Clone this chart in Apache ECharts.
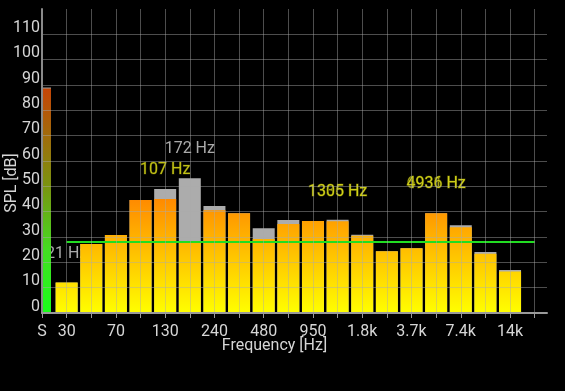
<!DOCTYPE html>
<html><head><meta charset="utf-8">
<script src="https://cdn.jsdelivr.net/npm/echarts@6/dist/echarts.min.js"></script>
<style>html,body{margin:0;padding:0;background:#000;}#main{width:565px;height:391px;}</style>
</head><body><div id="main"></div>
<script>
// ---- data ----
const tickLabels = ['S','30','','70','','130','','240','','480','','950','','1.8k','','3.7k','','7.4k','','14k',''];
const bandIndex = [1,2,3,4,5,6,7,8,9,10,11,12,13,14,15,16,17,18,19];
const currentSPL = [12, 27.2, 30.8, 44.6, 45.0, 28.4, 40.6, 39.4, 29.2, 35.1, 36.3, 36.2, 30.5, 24.4, 25.6, 39.4, 33.8, 23.4, 16.4];
const peakSPL    = [12, 27.2, 30.8, 44.6, 48.9, 53.2, 42.2, 39.4, 33.5, 36.7, 36.3, 36.8, 30.9, 24.4, 25.6, 39.4, 34.6, 24.1, 17.0];
const sumSPL = 88.6;
const sumPeak = 89.0;
const thresholdSPL = 28.0;
const thresholdRange = [1, 20];
const annotX    = [1, 6, 5, 12, 12, 16, 16];
const annotY    = [12, 53.2, 45.0, 36.3, 36.3, 39.4, 39.4];
const annotText = ['21 Hz', '172 Hz', '107 Hz', '1336 Hz', '1305 Hz', '6931 Hz', '4936 Hz'];
const annotKind = ['peak', 'peak', 'cur', 'ghost', 'cur', 'ghost', 'cur'];

const FONT = 'Roboto';
const chart = echarts.init(document.getElementById('main'));

const kindStyle = {
  peak:  {color:'#d4d4d4', textBorderWidth:0},
  cur:   {color:'#e8e81c', textBorderColor:'#3c3c00', textBorderWidth:1},
  ghost: {color:'#c4c420', textBorderColor:'#303000', textBorderWidth:1}
};

// bar centred on the "S" position, clipped to the plot area (left half hidden)
function sumBar(color){
  return function(params, api){
    const base = api.coord([api.value(0), 0]);
    const top = api.coord([api.value(0), api.value(1)]);
    const w = api.size([1, 0])[0] * 0.73;
    const rect = echarts.graphic.clipRectByRect(
      {x: base[0] - w / 2, y: top[1], width: w, height: base[1] - top[1]},
      {x: params.coordSys.x, y: params.coordSys.y, width: params.coordSys.width, height: params.coordSys.height});
    return rect && {type:'rect', shape:rect, style:{fill:color}};
  };
}

function build(barColor, sColor){
  return {
    backgroundColor:'#000',
    animation:false,
    grid:{left:42, right:18, top:9, bottom:78, containLabel:false, outerBoundsMode:'none'},
    xAxis:{
      type:'value', min:0, max:20.5, interval:1, zlevel:1, z:5,
      axisLine:{show:true, lineStyle:{color:'#9a9a9a', width:2}},
      axisTick:{show:true, length:5, lineStyle:{color:'#9a9a9a', width:1}},
      axisLabel:{color:'#d6d6d6', fontFamily:FONT, fontSize:16, margin:11, showMaxLabel:false,
        formatter:function(v){ return (Number.isInteger(v) && tickLabels[v] !== undefined) ? tickLabels[v] : ''; }},
      splitLine:{show:true, showMaxLine:false, lineStyle:{color:'rgba(170,170,170,0.45)', width:1}},
      name:'Frequency [Hz]', nameLocation:'middle', nameGap:25, nameMoveOverlap:false,
      nameTextStyle:{color:'#d6d6d6', fontFamily:FONT, fontSize:16, padding:[0,40,0,0]}
    },
    yAxis:{
      type:'value', min:0, max:120, interval:10, zlevel:1, z:5,
      axisLine:{show:true, lineStyle:{color:'#8a8a8a', width:2}},
      axisTick:{show:false},
      axisLabel:{color:'#d6d6d6', fontFamily:FONT, fontSize:16, margin:2, verticalAlign:'bottom', lineHeight:13, showMaxLabel:false},
      splitLine:{show:true, showMaxLine:false, lineStyle:{color:'rgba(170,170,170,0.45)', width:1}},
      name:'SPL [dB]', nameLocation:'middle', nameGap:22, nameMoveOverlap:false,
      nameTextStyle:{color:'#d6d6d6', fontFamily:FONT, fontSize:16, padding:[0,44,0,0]}
    },
    series:[
      {type:'bar', name:'peak', barWidth:22, barGap:'-100%', z:2,
       itemStyle:{color:'#acacac'}, data:bandIndex.map((x,i)=>[x, peakSPL[i]])},
      {type:'bar', name:'current', barWidth:22, barGap:'-100%', z:2,
       itemStyle:{color:barColor}, data:bandIndex.map((x,i)=>[x, currentSPL[i]])},
      {type:'custom', name:'sumPeak', z:2, renderItem:sumBar('#a0a0a0'), data:[[0, sumPeak]]},
      {type:'custom', name:'sum', z:2, renderItem:sumBar(sColor), data:[[0, sumSPL]]},
      {type:'line', name:'threshold', z:3, symbol:'none',
       lineStyle:{color:'#22dd22', width:2},
       data:thresholdRange.map(x=>[x, thresholdSPL])},
      {type:'scatter', name:'annot', z:1, symbolSize:1,
       itemStyle:{color:'rgba(0,0,0,0)'},
       data:annotX.map((x,i)=>({
         value:[x, annotY[i]],
         label:Object.assign({show:true, position:'inside', offset:[0,-29], formatter:annotText[i],
           fontFamily:FONT, fontSize:16}, kindStyle[annotKind[i]])
       }))}
    ]
  };
}

chart.setOption(build('#ffaa00', '#66cc22'));
const gy = v => chart.convertToPixel({yAxisIndex:0}, v);
const y0 = gy(0), yTop = gy(120);
const barGrad = new echarts.graphic.LinearGradient(0, y0, 0, yTop, [
  {offset:0, color:'#ffff00'},
  {offset:45/120, color:'#ff8a00'},
  {offset:1, color:'#ff3000'}
], true);
const sGrad = new echarts.graphic.LinearGradient(0, y0, 0, yTop, [
  {offset:0, color:'#1aff1a'},
  {offset:25/120, color:'#44dd22'},
  {offset:50/120, color:'#7a9410'},
  {offset:88/120, color:'#c44606'},
  {offset:1, color:'#d83000'}
], true);
chart.setOption(build(barGrad, sGrad), true);
</script></body></html>
